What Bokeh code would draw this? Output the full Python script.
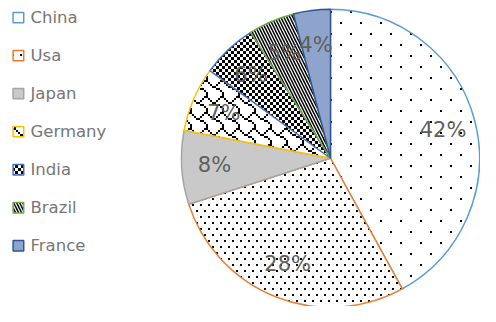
import math, zlib, struct, base64
from bokeh.plotting import figure
from bokeh.models import ColumnDataSource, Range1d, ImageURLTexture
from bokeh.embed import file_html
from bokeh.resources import INLINE
from bokeh.core.properties import value

# ---- data ----
countries = ["China", "Usa", "Japan", "Germany", "India", "Brazil", "France"]
shares = [42, 28, 8, 7, 6, 5, 4]
labels = ["42%", "28%", "8%", "7%", "6%", "5%", "4%"]

# ---- styles ----
line_colors = ["#5b9bd5", "#ed7d31", "#a5a5a5", "#ffc000", "#4472c4", "#70ad47", "#2f5597"]
fill_colors = ["#ffffff", "#ffffff", "#c9c9c9", "#ffffff", "#ffffff", "#ffffff", "#8ea4cc"]
hatch_patterns = ["sparse_dots", "dense_dots", " ", "shingle", "checker", "left_diagonal_line", " "]
hatch_scales = [1, 1, 1, 1, 1, 6, 1]
hatch_weights = [1, 1, 1, 1, 1, 1.5, 1]


def png_uri(w, h, black):
    """Tiny RGBA PNG tile: transparent with black pixels at given cells."""
    rows = []
    for y in range(h):
        row = bytearray([0])
        for x in range(w):
            row += bytes([0, 0, 0, 255]) if (x, y) in black else bytes([0, 0, 0, 0])
        rows.append(bytes(row))
    raw = b"".join(rows)

    def chunk(t, d):
        c = struct.pack(">I", len(d)) + t + d
        return c + struct.pack(">I", zlib.crc32(t + d) & 0xffffffff)

    png = b"\x89PNG\r\n\x1a\n"
    png += chunk(b"IHDR", struct.pack(">IIBBBBB", w, h, 8, 6, 0, 0, 0))
    png += chunk(b"IDAT", zlib.compress(raw))
    png += chunk(b"IEND", b"")
    return "data:image/png;base64," + base64.b64encode(png).decode()


def dots(w, h, centers, size=2):
    s = set()
    for (x0, y0) in centers:
        for dx in range(size):
            for dy in range(size):
                s.add(((x0 + dx) % w, (y0 + dy) % h))
    return s


def bitmap(rows_bits, sx, sy):
    s = set()
    for r, bits in enumerate(rows_bits):
        for c in range(8):
            if bits & (0x80 >> c):
                for dx in range(sx):
                    for dy in range(sy):
                        s.add((c * sx + dx, r * sy + dy))
    return s


sparse = png_uri(20, 22, dots(20, 22, [(0, 0), (10, 11)]))
dense = png_uri(8, 12, dots(8, 12, [(0, 0), (4, 6)]))
checker = png_uri(6, 6, {(x, y) for x in range(6) for y in range(6) if ((x // 3) + (y // 3)) % 2 == 0})
shingle = png_uri(16, 16, bitmap([0x03, 0x84, 0x48, 0x30, 0x0C, 0x02, 0x01, 0x01], 2, 2))

extra = {
    "sparse_dots": ImageURLTexture(url=sparse, repetition="repeat"),
    "dense_dots": ImageURLTexture(url=dense, repetition="repeat"),
    "checker": ImageURLTexture(url=checker, repetition="repeat"),
    "shingle": ImageURLTexture(url=shingle, repetition="repeat"),
}

# figure covers the reference frame (496 x 322 units)
W, H = 480, 306
FW, FH = 496, 322
cx, cy, R = 341, FH - 166, 154
label_r = 0.78 * R

total = sum(shares)
starts, ends, lx, ly = [], [], [], []
cum = 0.0
for s in shares:
    a0 = math.pi / 2 - 2 * math.pi * cum / total
    a1 = math.pi / 2 - 2 * math.pi * (cum + s) / total
    starts.append(a0)
    ends.append(a1)
    mid = (a0 + a1) / 2
    lx.append(cx + label_r * math.cos(mid))
    ly.append(cy + label_r * math.sin(mid))
    cum += s

n = len(countries)
src = ColumnDataSource(dict(
    country=countries, share=shares, label=labels,
    start=starts, end=ends, lx=lx, ly=ly,
    line=line_colors, fill=fill_colors, hatch=hatch_patterns,
    hscale=hatch_scales, hweight=hatch_weights,
    legx=[18.5] * n,
    legy=[FH - 18 - 40 * i for i in range(n)],
    legtx=[31] * n,
))

p = figure(width=W, height=H, output_backend="svg", toolbar_location=None,
           x_range=Range1d(0, FW), y_range=Range1d(0, FH), min_border=0)
p.axis.visible = False
p.grid.visible = False
p.outline_line_color = None
p.background_fill_color = "white"
p.border_fill_color = "white"

p.wedge(x=cx, y=cy, radius=R, start_angle="start", end_angle="end", direction="clock",
        source=src, fill_color="fill", line_color="line", line_width=1.5,
        hatch_pattern="hatch", hatch_scale="hscale", hatch_weight="hweight",
        hatch_color="black", hatch_extra=extra)

p.text(x="lx", y="ly", text="label", source=src, text_align="center",
       text_baseline="middle", text_font=value("DejaVu Sans"),
       text_font_size="21px", text_color="#5f5f5f")

# legend
p.rect(x="legx", y="legy", width=11, height=11, source=src,
       fill_color="fill", line_color="line", line_width=1.5,
       hatch_pattern="hatch", hatch_scale="hscale", hatch_weight="hweight",
       hatch_color="black", hatch_extra=extra)
p.text(x="legtx", y="legy", text="country", source=src, text_align="left",
       text_baseline="middle", text_font=value("DejaVu Sans"),
       text_font_size="16.5px", text_color="#767676")

open("out.html", "w").write(file_html(p, INLINE))
